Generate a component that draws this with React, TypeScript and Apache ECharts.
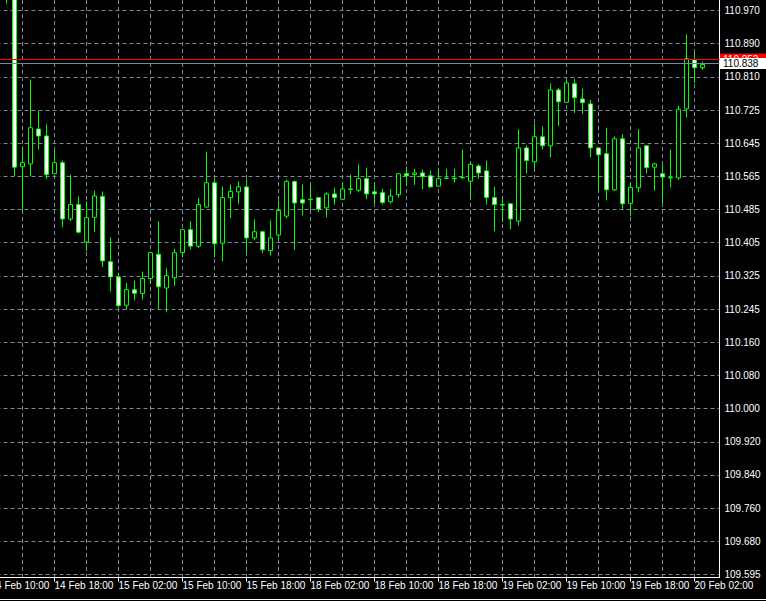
import React, { useEffect, useRef } from "react";
import * as echarts from "echarts";

// ---- data (hourly candles, 14 Feb 12:00 .. 20 Feb 03:00) ----
const opens = [
  111.05, 111.03, 110.589, 110.596, 110.681, 110.664, 110.572, 110.599, 110.462, 110.497,
  110.406, 110.466, 110.517, 110.358, 110.321, 110.252, 110.29, 110.281, 110.317, 110.376,
  110.294, 110.319, 110.38, 110.436, 110.396, 110.491, 110.55, 110.403, 110.514, 110.528,
  110.54, 110.416, 110.431, 110.385, 110.423, 110.469, 110.553, 110.509, 110.51, 110.514,
  110.489, 110.523, 110.51, 110.535, 110.532, 110.56, 110.528, 110.526, 110.504, 110.521,
  110.572, 110.57, 110.574, 110.567, 110.542, 110.561, 110.561, 110.563, 110.554, 110.591,
  110.579, 110.514, 110.497, 110.499, 110.457, 110.635, 110.601, 110.662, 110.64, 110.776,
  110.746, 110.791, 110.754, 110.742, 110.635, 110.621, 110.533, 110.657, 110.5, 110.538,
  110.64, 110.588, 110.572, 110.562, 110.562, 110.73, 110.849, 110.83,
];
const closes = [
  111.03, 110.588, 110.599, 110.684, 110.664, 110.57, 110.599, 110.462, 110.497, 110.43,
  110.465, 110.518, 110.36, 110.321, 110.251, 110.29, 110.281, 110.317, 110.38, 110.297,
  110.324, 110.38, 110.436, 110.396, 110.497, 110.55, 110.402, 110.514, 110.529, 110.54,
  110.416, 110.431, 110.387, 110.416, 110.483, 110.553, 110.501, 110.501, 110.509, 110.486,
  110.523, 110.514, 110.535, 110.534, 110.56, 110.523, 110.523, 110.502, 110.518, 110.572,
  110.567, 110.574, 110.565, 110.54, 110.56, 110.561, 110.56, 110.562, 110.595, 110.574,
  110.514, 110.497, 110.496, 110.462, 110.635, 110.604, 110.662, 110.64, 110.776, 110.747,
  110.793, 110.757, 110.745, 110.635, 110.618, 110.533, 110.657, 110.499, 110.539, 110.635,
  110.587, 110.596, 110.564, 110.563, 110.729, 110.852, 110.83, 110.838,
];
const lows = [
  110.986, 110.566, 110.482, 110.566, 110.631, 110.559, 110.571, 110.442, 110.457, 110.427,
  110.384, 110.43, 110.345, 110.286, 110.247, 110.242, 110.264, 110.266, 110.306, 110.243,
  110.235, 110.299, 110.369, 110.388, 110.391, 110.49, 110.369, 110.359, 110.464, 110.498,
  110.381, 110.41, 110.379, 110.373, 110.412, 110.464, 110.387, 110.471, 110.483, 110.479,
  110.466, 110.497, 110.509, 110.522, 110.527, 110.51, 110.5, 110.497, 110.499, 110.514,
  110.546, 110.545, 110.534, 110.539, 110.541, 110.559, 110.551, 110.561, 110.513, 110.56,
  110.497, 110.432, 110.454, 110.437, 110.446, 110.573, 110.583, 110.632, 110.612, 110.688,
  110.744, 110.72, 110.718, 110.612, 110.531, 110.507, 110.53, 110.485, 110.469, 110.527,
  110.573, 110.531, 110.5, 110.539, 110.557, 110.709, 110.793, 110.825,
];
const highs = [
  111.07, 111.04, 110.638, 110.801, 110.725, 110.692, 110.629, 110.604, 110.57, 110.517,
  110.505, 110.531, 110.529, 110.417, 110.331, 110.306, 110.312, 110.334, 110.381, 110.456,
  110.342, 110.39, 110.437, 110.456, 110.513, 110.626, 110.561, 110.541, 110.546, 110.553,
  110.558, 110.461, 110.434, 110.458, 110.507, 110.558, 110.556, 110.546, 110.544, 110.515,
  110.527, 110.538, 110.55, 110.57, 110.595, 110.587, 110.546, 110.535, 110.535, 110.573,
  110.59, 110.584, 110.582, 110.58, 110.584, 110.584, 110.584, 110.631, 110.599, 110.595,
  110.604, 110.54, 110.511, 110.501, 110.68, 110.641, 110.694, 110.687, 110.792, 110.781,
  110.799, 110.803, 110.779, 110.752, 110.636, 110.684, 110.663, 110.668, 110.55, 110.681,
  110.641, 110.599, 110.594, 110.631, 110.737, 110.911, 110.87, 110.845,
];
const timeTicks = [
  "14 Feb 10:00", "14 Feb 18:00", "15 Feb 02:00", "15 Feb 10:00", "15 Feb 18:00", "18 Feb 02:00",
  "18 Feb 10:00", "18 Feb 18:00", "19 Feb 02:00", "19 Feb 10:00", "19 Feb 18:00", "20 Feb 02:00",
];
const priceTicks = [
  "109.595", "109.680", "109.760", "109.840", "109.920", "110.000", "110.080", "110.160", "110.245",
  "110.325", "110.405", "110.485", "110.565", "110.645", "110.725", "110.810", "110.890", "110.970",
];
const bidPrice = 110.838;
const askPrice = 110.852;

// ---- scale / style constants ----
const PRICE_MIN = 109.5897;
const PRICE_MAX = 110.9948;
const FIRST_OFFSET = 2; // candle 0 sits 2 hours after the first time tick
const FONT = "'Liberation Sans', Arial, sans-serif";
const GRID_COLOR = "#778899";
const GRID_DASH = [4, 3];

export default function App() {
  const ref = useRef<HTMLDivElement>(null);

  useEffect(() => {
    if (!ref.current) return;
    const chart = echarts.init(ref.current, undefined, { renderer: "svg" });
    const rows = opens.map((o, i) => [i + FIRST_OFFSET, o, closes[i], lows[i], highs[i]]);
    const lastX = opens.length - 1 + FIRST_OFFSET;

    const gridBase = { containLabel: false, outerBoundsMode: "none" };
    const option: any = {
      animation: false,
      backgroundColor: "#000000",
      textStyle: { fontFamily: FONT },
      grid: [
        { ...gridBase, left: -73.5, top: 0, width: 793, height: 577.5 },
        { ...gridBase, left: -73.5, top: 10.5, width: 793, height: 564 },
        { ...gridBase, left: -73.5, top: 0, width: 768, height: 577.5 },
      ],
      xAxis: [
        {
          gridIndex: 0, type: "value", min: -8, max: 91.125, interval: 4,
          axisLine: { show: true, onZero: false, lineStyle: { color: "#ffffff", width: 1 } },
          axisTick: { show: false }, axisLabel: { show: false },
          splitLine: { show: true, showMinLine: false, showMaxLine: false, lineStyle: { color: GRID_COLOR, width: 1, type: GRID_DASH } },
        },
        { gridIndex: 1, type: "value", min: -8, max: 91.125, show: false },
        {
          gridIndex: 2, type: "value", min: -8, max: 88, interval: 8,
          axisLine: { show: false },
          axisTick: { show: true, length: 4, lineStyle: { color: "#ffffff", width: 1 } },
          axisLabel: {
            show: true, color: "#ffffff", fontSize: 10, fontFamily: FONT, align: "left", margin: 3,
            showMinLabel: true, showMaxLabel: true, hideOverlap: false,
            formatter: (v: number) => (v >= 0 && v % 8 === 0 ? timeTicks[v / 8] || "" : ""),
          },
          splitLine: { show: false },
        },
      ],
      yAxis: [
        {
          gridIndex: 0, type: "value", position: "right", min: PRICE_MIN, max: PRICE_MAX, scale: true,
          axisLine: { show: true, onZero: false, lineStyle: { color: "#ffffff", width: 1 } },
          axisTick: { show: false }, axisLabel: { show: false }, splitLine: { show: false },
        },
        {
          gridIndex: 1, type: "value", position: "right", min: 0, max: 17, interval: 1,
          axisLine: { show: false },
          axisTick: { show: true, length: 3, lineStyle: { color: "#ffffff", width: 1 } },
          axisLabel: {
            show: true, color: "#ffffff", fontSize: 10, fontFamily: FONT, margin: 5,
            showMinLabel: true, showMaxLabel: true,
            formatter: (u: number) => priceTicks[Math.round(u)] || "",
          },
          splitLine: { show: true, lineStyle: { color: GRID_COLOR, width: 1, type: GRID_DASH } },
        },
        { gridIndex: 2, type: "value", min: 0, max: 1, show: false },
      ],
      series: [
        {
          type: "candlestick",
          xAxisIndex: 0, yAxisIndex: 0,
          data: rows,
          encode: { x: 0, y: [1, 2, 3, 4] },
          barWidth: 4,
          silent: true,
          itemStyle: {
            color: "#000000", color0: "#ffffff",
            borderColor: "#00ff00", borderColor0: "#00ff00", borderColorDoji: "#00ff00",
            borderWidth: 1,
          },
        },
        {
          type: "line", xAxisIndex: 0, yAxisIndex: 0, z: 3, clip: false, silent: true,
          data: [[lastX, closes[closes.length - 1]]], symbol: "none", lineStyle: { opacity: 0 },
          markLine: {
            silent: true, symbol: "none", animation: false,
            lineStyle: { color: "#ff0000", width: 1, type: "solid" },
            label: {
              show: true, position: "end", distance: 0.5,
              formatter: () => askPrice.toFixed(3),
              color: "#ffffff", backgroundColor: "#ff0000", fontSize: 10, fontFamily: FONT,
              lineHeight: 10, padding: [1, 9, 1, 3],
            },
            data: [{ yAxis: askPrice }],
          },
        },
        {
          type: "line", xAxisIndex: 0, yAxisIndex: 0, z: 4, clip: false, silent: true,
          data: [[lastX, closes[closes.length - 1]]], symbol: "none", lineStyle: { opacity: 0 },
          markLine: {
            silent: true, symbol: "none", animation: false,
            lineStyle: { color: GRID_COLOR, width: 1, type: "solid" },
            label: {
              show: true, position: "end", distance: 0.5,
              formatter: () => bidPrice.toFixed(3),
              color: "#000000", backgroundColor: "#ffffff", fontSize: 10, fontFamily: FONT,
              lineHeight: 10, padding: [1, 9, 0, 3],
            },
            data: [{ yAxis: bidPrice }],
          },
        },
      ],
      graphic: [
        {
          type: "line", silent: true,
          shape: { x1: 0, y1: 599.5, x2: 766, y2: 599.5 },
          style: { stroke: "#ffffff", lineWidth: 1 },
        },
      ],
    };
    chart.setOption(option);
    return () => chart.dispose();
  }, []);

  return (
    <div
      ref={ref}
      style={{ position: "absolute", left: 0, top: 0, width: 766, height: 601, background: "#000000" }}
    />
  );
}
